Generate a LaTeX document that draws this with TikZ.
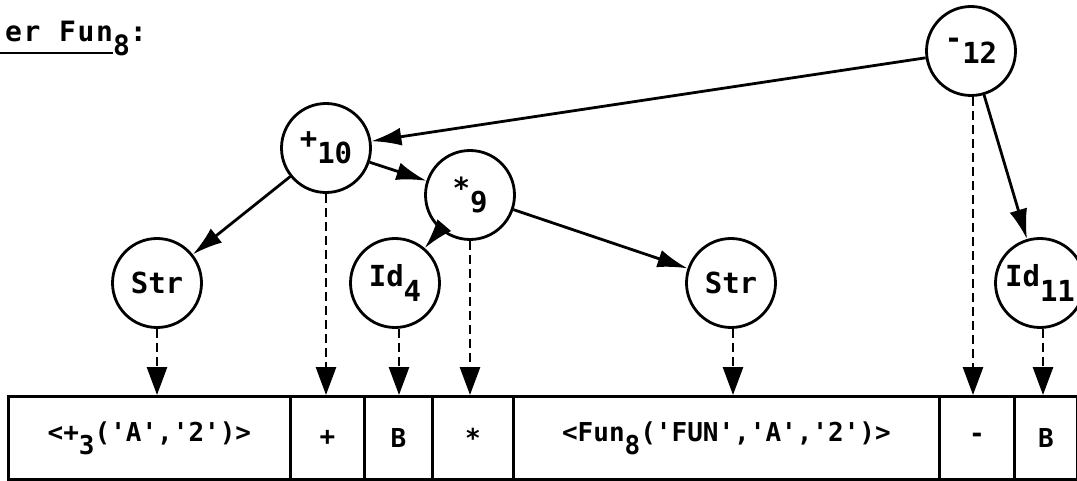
\documentclass[tikz,border=0pt]{standalone}
\usepackage{fontspec}
\setmonofont{DejaVu Sans Mono}
\usetikzlibrary{arrows.meta}
\newcommand\lo[1]{\raisebox{-0.5em}{#1}}
\newcommand\nodefont{\ttfamily\bfseries\fontsize{29}{32}\selectfont}
\newcommand\cellfont{\ttfamily\bfseries\fontsize{26}{30}\selectfont}
\newcommand\titlefont{\ttfamily\bfseries\fontsize{28}{30}\selectfont\addfontfeature{LetterSpace=6}}
\tikzset{
  tnode/.style={circle, draw, line width=2.8pt, minimum size=89pt, inner sep=0pt, font=\nodefont},
  cell/.style={rectangle, draw, line width=2.8pt, minimum height=83pt, inner sep=0pt, anchor=north west, font=\cellfont},
  edge/.style={line width=2.8pt, -{Latex[length=30pt,width=18pt]}},
  ref/.style={line width=2.8pt, dash pattern=on 9pt off 5pt, -{Triangle[length=28pt,width=20pt]}},
}
\begin{document}
\begin{tikzpicture}[x=1pt,y=-1pt]
\useasboundingbox (0,0) rectangle (1077,481);
% title
\node[anchor=base west, inner sep=0pt, font=\titlefont] (title) at (5,42) {er Fun\lo{8}:};
\draw[line width=2.6pt] (0,53) -- (113,53);
% tree nodes
\node[tnode] (n12) at (971,51) {-\lo{12}};
\node[tnode] (n10) at (326,148) {+\lo{10}};
\node[tnode] (n9) at (470,195) {*\lo{9}};
\node[tnode] (strL) at (157,283) {Str};
\node[tnode] (id4) at (395,283) {Id\lo{4}};
\node[tnode] (strR) at (731,283) {Str};
\node[tnode] (id11) at (1040,283) {Id\lo{11}};
% cells
\node[cell, minimum width=282pt] (c1) at (7,395) {<+\lo{3}('A','2')>\hspace{20pt}};
\node[cell, minimum width=74pt] (c2) at (289,395) {+};
\node[cell, minimum width=68pt] (c3) at (363,395) {B};
\node[cell, minimum width=81pt] (c4) at (431,395) {*};
\node[cell, minimum width=426pt] (c5) at (512,395) {<Fun\lo{8}('FUN','A','2')>};
\node[cell, minimum width=75pt] (c6) at (938,395) {-};
\node[cell, minimum width=63pt] (c7) at (1013,395) {B};
% solid edges
\draw[edge] (n12) -- (n10);
\draw[edge] (n10) -- (n9);
\draw[edge] (n10) -- (strL);
\draw[edge] (n9) -- (id4);
\draw[edge] (n9) -- (strR);
\draw[edge] (n12) -- (id11);
% dashed references
\draw[ref] (strL.south) -- (strL.south |- c1.north);
\draw[ref] (n10.south) -- (n10.south |- c2.north);
\draw[ref] ([xshift=4pt]id4.south) -- ([xshift=4pt]id4.south |- c3.north);
\draw[ref] (n9.south) -- (n9.south |- c4.north);
\draw[ref] ([xshift=2pt]strR.south) -- ([xshift=2pt]strR.south |- c5.north);
\draw[ref] ([xshift=2pt]n12.south) -- ([xshift=2pt]n12.south |- c6.north);
\draw[ref] ([xshift=3pt]id11.south) -- ([xshift=3pt]id11.south |- c7.north);
\end{tikzpicture}
\end{document}
